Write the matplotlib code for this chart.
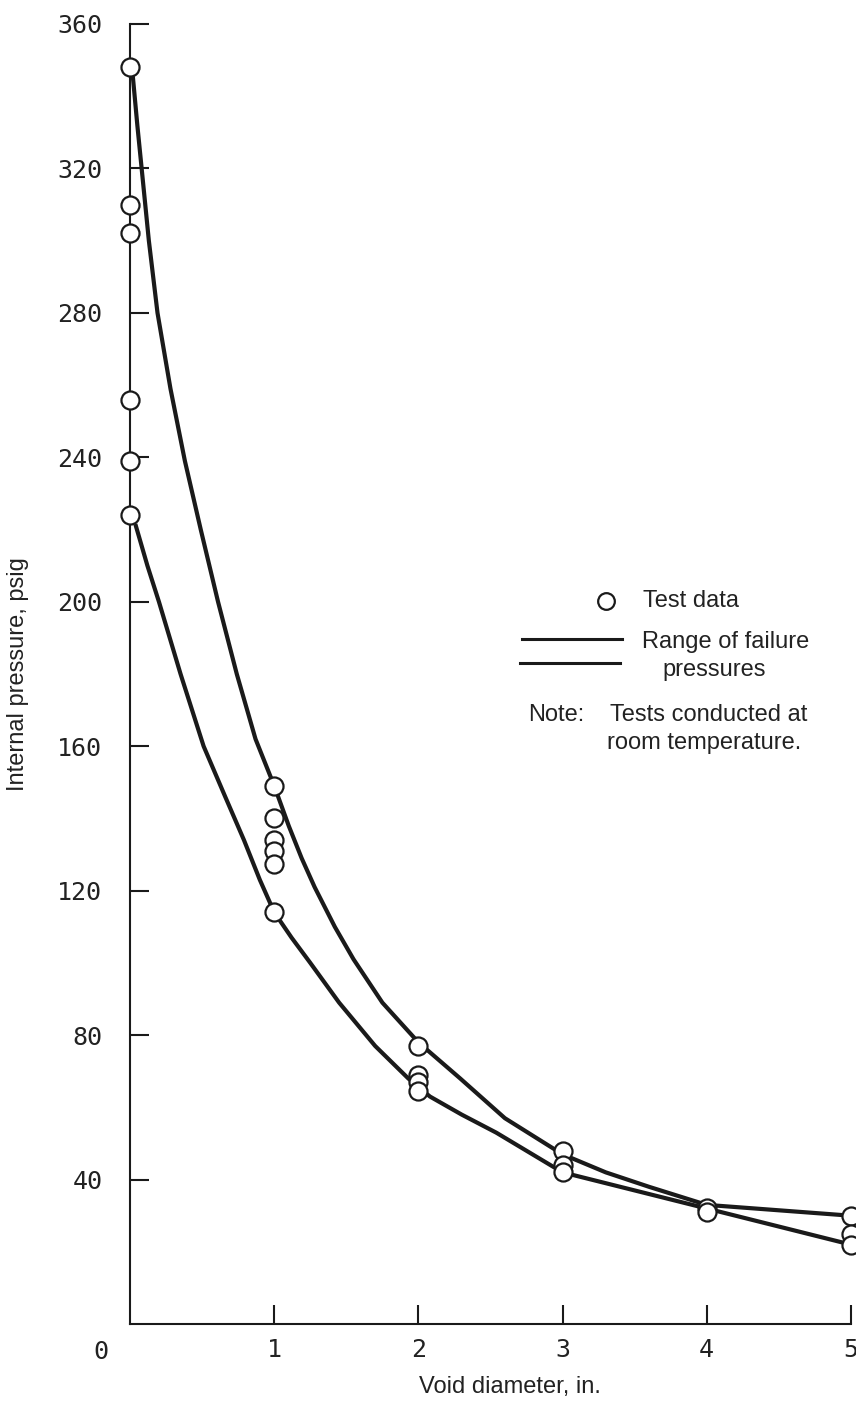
import matplotlib
matplotlib.use("Agg")
import matplotlib.pyplot as plt
from matplotlib.lines import Line2D

# test points (void diameter in., failure pressure psig)
test_x = [0, 0, 0, 0, 0, 0,
          1, 1, 1, 1, 1, 1,
          2, 2, 2, 2,
          3, 3, 3,
          4, 4,
          5, 5, 5]
test_p = [348, 310, 302, 256, 239, 224,
          149, 140, 134, 131, 127.5, 114,
          77, 69, 67, 64.5,
          48, 44, 42,
          32, 31,
          30, 25, 22]

# upper and lower bounds of the failure range (hand drawn curves, read along their length)
upper_x = [0.02, 0.05, 0.08, 0.13, 0.19, 0.28, 0.38, 0.49, 0.61, 0.74, 0.87, 1.0,
           1.1, 1.19, 1.28, 1.42, 1.55, 1.75, 2.0, 2.29, 2.6, 3.0, 3.3, 3.6, 4.0, 4.5, 5.0]
upper_p = [345, 332, 320, 300, 280, 259, 239, 220, 200, 180, 162, 149,
           138, 129, 121, 110, 101, 89, 78, 68, 57, 47, 42, 38, 33, 31.5, 30]
lower_x = [0.04, 0.12, 0.2, 0.35, 0.51, 0.66, 0.79, 0.9, 1.0, 1.12, 1.25, 1.45,
           1.7, 1.93, 2.08, 2.3, 2.54, 2.77, 3.0, 3.5, 4.0, 4.5, 5.0]
lower_p = [221, 210, 200, 180, 160, 146, 134, 123, 114, 107, 100, 89,
           77, 68, 63, 58, 53, 47.5, 42, 37, 32, 27, 22]

x_ticks = [1, 2, 3, 4, 5]
y_ticks = [40, 80, 120, 160, 200, 240, 280, 320, 360]

label_font = ['Liberation Sans', 'DejaVu Sans']
tick_font = 'DejaVu Sans Mono'
ink = '#1a1a1a'
txt = '#222222'

fig = plt.figure(figsize=(8.56, 14.02), dpi=100)
ax = fig.add_axes([0.152, 0.0556, 0.842, 0.9273])

ax.plot(upper_x, upper_p, color=ink, lw=3.0, solid_joinstyle='round', zorder=2)
ax.plot(lower_x, lower_p, color=ink, lw=3.0, solid_joinstyle='round', zorder=2)
ax.plot(test_x, test_p, 'o', ms=13, mfc='white', mec=ink, mew=1.6,
        clip_on=False, zorder=3)

ax.set_xlim(0, 5)
ax.set_ylim(0, 360)
ax.spines['top'].set_visible(False)
ax.spines['right'].set_visible(False)
for s in ['left', 'bottom']:
    ax.spines[s].set_linewidth(1.5)
    ax.spines[s].set_color(ink)

ax.set_xticks(x_ticks)
ax.set_yticks(y_ticks)
ax.tick_params(axis='both', direction='in', length=14, width=1.5, color=ink)
ax.tick_params(axis='y', pad=20)
ax.tick_params(axis='x', pad=10)
for lab in ax.get_xticklabels() + ax.get_yticklabels():
    lab.set_fontfamily(tick_font)
    lab.set_fontsize(18)
    lab.set_color(txt)

# shared origin label
ax.text(-0.040, -0.0215, '0', transform=ax.transAxes, ha='center', va='center',
        fontsize=18, family=tick_font, color=txt)

ax.set_ylabel('Internal pressure, psig', family=label_font, fontsize=17, color=txt)
ax.yaxis.set_label_coords(-0.140, 0.5)
ax.set_xlabel('Void diameter, in.', family=label_font, fontsize=17, color=txt)
ax.xaxis.set_label_coords(0.527, -0.040)

# legend / note block
def fx(px):
    return px / 856.0

def fy(py):
    return 1 - py / 1402.0

fig.add_artist(Line2D([fx(606)], [fy(601)], marker='o', ms=12, mfc='white',
                      mec=ink, mew=1.6, transform=fig.transFigure))
fig.text(fx(643), fy(601), 'Test data', family=label_font, fontsize=17,
         va='center', ha='left', color=txt)
fig.add_artist(Line2D([fx(522), fx(622)], [fy(639), fy(639)], color=ink,
                      lw=2.2, transform=fig.transFigure))
fig.add_artist(Line2D([fx(520), fx(620)], [fy(663), fy(663)], color=ink,
                      lw=2.2, transform=fig.transFigure))
fig.text(fx(642), fy(642), 'Range of failure', family=label_font, fontsize=17,
         va='center', ha='left', color=txt)
fig.text(fx(714), fy(670), 'pressures', family=label_font, fontsize=17,
         va='center', ha='center', color=txt)
fig.text(fx(528), fy(715), 'Note:', family=label_font, fontsize=17,
         va='center', ha='left', color=txt)
fig.text(fx(610), fy(715), 'Tests conducted at', family=label_font, fontsize=17,
         va='center', ha='left', color=txt)
fig.text(fx(607), fy(743), 'room temperature.', family=label_font, fontsize=17,
         va='center', ha='left', color=txt)

fig.savefig('out.png', dpi=100, facecolor='white')
